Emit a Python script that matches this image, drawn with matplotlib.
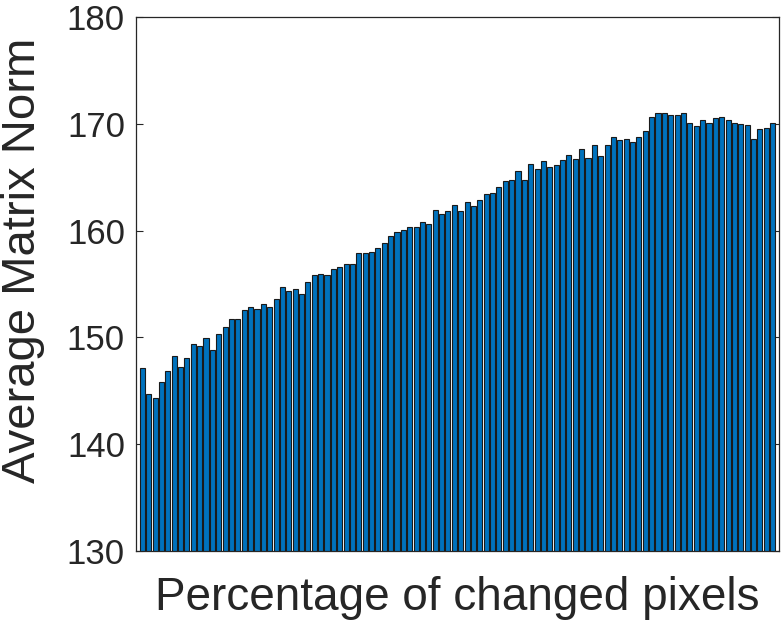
import matplotlib
matplotlib.use("Agg")
import matplotlib.pyplot as plt
import numpy as np

values = [
    147.1, 144.7, 144.3, 145.8, 146.9, 148.3, 147.2, 148.1, 149.4, 149.2,
    149.9, 148.8, 150.3, 151.0, 151.7, 151.7, 152.6, 152.8, 152.7, 153.1,
    152.8, 153.6, 154.7, 154.3, 154.5, 154.1, 155.2, 155.8, 155.9, 155.8,
    156.4, 156.6, 156.9, 156.9, 157.9, 157.9, 158.0, 158.4, 158.8, 159.5,
    159.9, 160.1, 160.3, 160.3, 160.8, 160.6, 161.9, 161.6, 161.8, 162.4,
    161.8, 162.7, 162.3, 162.9, 163.4, 163.5, 164.1, 164.6, 164.7, 165.6,
    164.7, 166.2, 165.8, 166.5, 166.0, 166.1, 166.6, 167.1, 166.7, 167.6,
    166.8, 168.0, 167.0, 168.0, 168.8, 168.5, 168.6, 168.3, 168.8, 169.3,
    170.6, 171.0, 171.0, 170.8, 170.8, 171.0, 170.1, 169.8, 170.4, 170.1,
    170.5, 170.6, 170.4, 170.1, 170.0, 169.9, 168.6, 169.5, 169.6, 170.1,
]
x = np.arange(1, len(values) + 1)
yticks = [130, 140, 150, 160, 170, 180]

plt.rcParams['font.family'] = ['Liberation Sans', 'DejaVu Sans']
fig = plt.figure(figsize=(7.82, 6.24), dpi=100)
ax = fig.add_axes([136/782, 1 - 551/624, (779-136)/782, (551-17)/624])
ax.bar(x, values, width=0.8, color='#0072BD', edgecolor='#1a1a1a', linewidth=0.8, zorder=2)
ax.set_xlim(0, len(values) + 1)
ax.set_ylim(130, 180)
ax.set_yticks(yticks)
ax.set_xticks([])
ax.tick_params(axis='y', direction='in', length=5, width=0.8, colors='#262626',
               labelsize=25, right=True, pad=8)
for s in ax.spines.values():
    s.set_linewidth(0.9)
    s.set_color('#262626')
ax.set_xlabel('Percentage of changed pixels', fontsize=33, color='#262626', labelpad=18)
ax.set_ylabel('Average Matrix Norm', fontsize=34, color='#262626')
ax.yaxis.set_label_coords(-0.1415, 0.545)
fig.savefig('out.png', dpi=100)
